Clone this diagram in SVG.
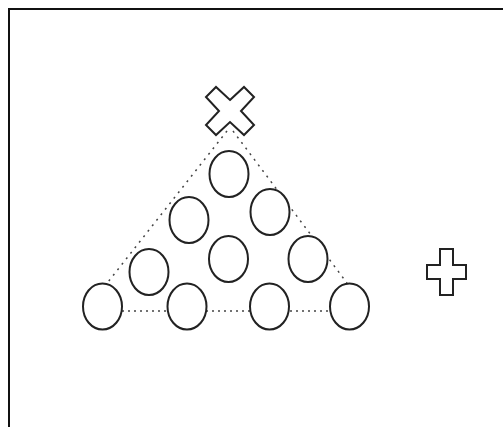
<svg xmlns="http://www.w3.org/2000/svg" width="503" height="427" viewBox="0 0 503 427">
  <style>
    .frame { fill: none; stroke: #111; stroke-width: 2; }
    .ball { fill: #fff; stroke: #222; stroke-width: 2; }
    .sym { fill: #fff; stroke: #222; stroke-width: 2; stroke-linejoin: miter; }
    .dots { fill: none; stroke: #444; stroke-width: 1.5; }
    .diag { stroke-dasharray: 2 5; }
    .flat { stroke-dasharray: 2 4; }
  </style>
  <rect width="503" height="427" fill="#fff"/>
  <!-- outer frame, running off the right and bottom edges -->
  <rect class="frame" x="9" y="9" width="520" height="440"/>

  <g id="connectors">
    <line class="dots diag" x1="227" y1="131" x2="108" y2="282"/>
    <line class="dots diag" x1="233" y1="131" x2="347" y2="283"/>
    <line class="dots flat" x1="122" y1="311" x2="330" y2="311"/>
  </g>

  <g id="star">
    <polygon class="sym" points="230,100 244,87 254,97 241,111 254,125 244,135 230,122 216,135 206,125 219,111 206,97 216,87"/>
  </g>

  <g id="ball-1"><ellipse class="ball" cx="229" cy="174" rx="19.5" ry="23"/></g>
  <g id="ball-2"><ellipse class="ball" cx="189" cy="220" rx="19.5" ry="23"/></g>
  <g id="ball-3"><ellipse class="ball" cx="270" cy="212" rx="19.5" ry="23"/></g>
  <g id="ball-4"><ellipse class="ball" cx="149" cy="272" rx="19.5" ry="23"/></g>
  <g id="ball-5"><ellipse class="ball" cx="228.5" cy="259" rx="19.5" ry="23"/></g>
  <g id="ball-6"><ellipse class="ball" cx="308" cy="259" rx="19.5" ry="23"/></g>
  <g id="ball-7"><ellipse class="ball" cx="102.5" cy="306.5" rx="19.5" ry="23"/></g>
  <g id="ball-8"><ellipse class="ball" cx="187" cy="306.5" rx="19.5" ry="23"/></g>
  <g id="ball-9"><ellipse class="ball" cx="269.5" cy="306.5" rx="19.5" ry="23"/></g>
  <g id="ball-10"><ellipse class="ball" cx="349.5" cy="306.5" rx="19.5" ry="23"/></g>

  <g id="plus">
    <polygon class="sym" points="440,249 453,249 453,265 466,265 466,279 453,279 453,295 440,295 440,279 427,279 427,265 440,265"/>
  </g>
</svg>
